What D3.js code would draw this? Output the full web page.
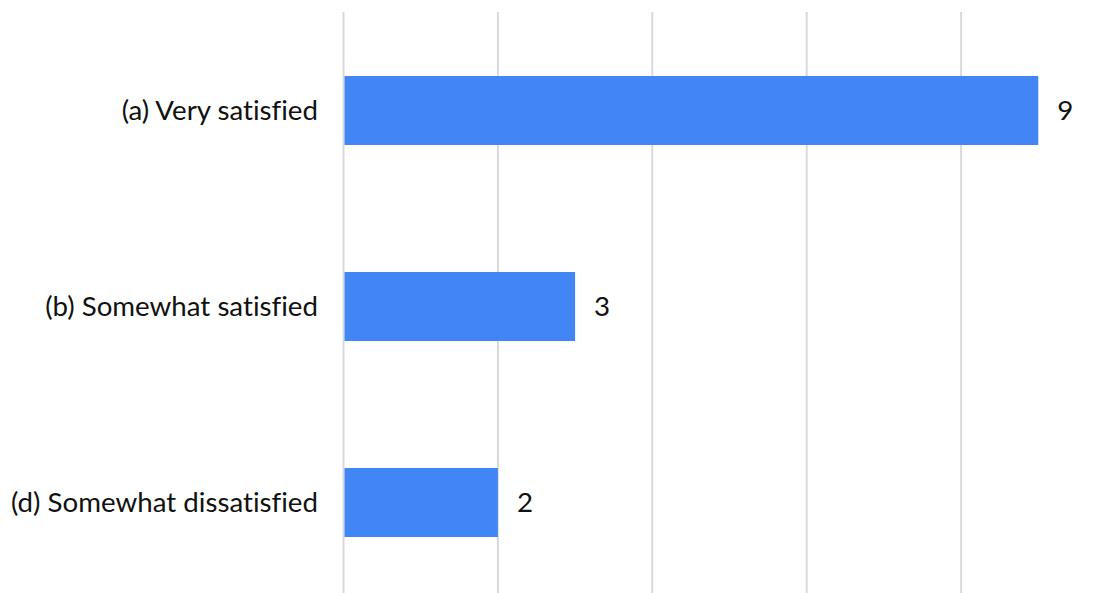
<!DOCTYPE html>
<html>
<head>
<meta charset="utf-8">
<script src="https://cdn.jsdelivr.net/npm/d3@7"></script>
<style>
  html, body { margin: 0; padding: 0; background: #fff; }
  svg { display: block; }
  text { font-variant-ligatures: none; }
</style>
</head>
<body>
<svg id="chart" width="1102" height="593"></svg>
<script>
// Survey responses
const categories = ["(a) Very satisfied", "(b) Somewhat satisfied", "(d) Somewhat dissatisfied"];
const counts = [9, 3, 2];
const tickValues = [0, 2, 4, 6, 8];

const svg = d3.select("#chart");
const left = 343.5, unit = 77.2;
const x = d3.scaleLinear().domain([0, 9]).range([left, left + 9 * unit]);
const y = d3.scaleBand()
  .domain(categories)
  .range([12.5, 600.5])
  .paddingInner(0.648)
  .paddingOuter(0.324);

// vertical gridlines
svg.append("g").selectAll("line")
  .data(tickValues)
  .join("line")
  .attr("x1", d => x(d)).attr("x2", d => x(d))
  .attr("y1", 12).attr("y2", 593)
  .attr("stroke", "#d9d9d9")
  .attr("stroke-width", 2);

// bars
svg.append("g").selectAll("rect")
  .data(categories)
  .join("rect")
  .attr("x", x(0) + 1)
  .attr("y", d => y(d))
  .attr("width", (d, i) => x(counts[i]) - x(0) - 1)
  .attr("height", y.bandwidth())
  .attr("fill", "#4285f4");

const font = "Lato, 'Noto Sans', sans-serif";

// category labels
svg.append("g").selectAll("text")
  .data(categories)
  .join("text")
  .attr("x", 318)
  .attr("y", d => y(d) + y.bandwidth() / 2)
  .attr("dy", "0.35em")
  .attr("text-anchor", "end")
  .attr("font-family", font)
  .attr("font-size", 27.7)
  .attr("fill", "#111")
  .text(d => d);

// value labels
svg.append("g").selectAll("text")
  .data(categories)
  .join("text")
  .attr("x", (d, i) => x(counts[i]) + 19)
  .attr("y", d => y(d) + y.bandwidth() / 2)
  .attr("dy", "0.35em")
  .attr("font-family", font)
  .attr("font-size", 27.7)
  .attr("fill", "#111")
  .text((d, i) => counts[i]);
</script>
</body>
</html>
